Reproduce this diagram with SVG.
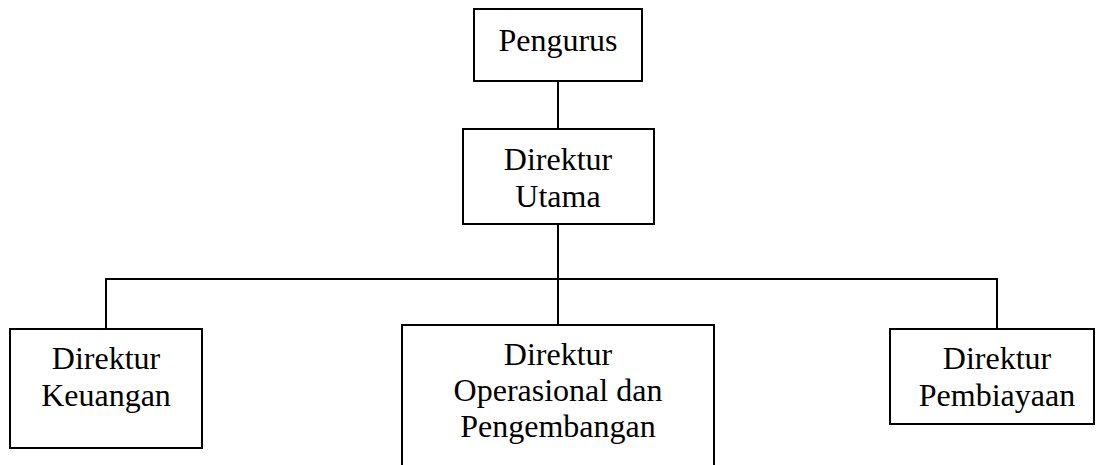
<svg xmlns="http://www.w3.org/2000/svg" width="1097" height="465" viewBox="0 0 1097 465">
<style>
.box{fill:#fff;stroke:#000;stroke-width:2}
.ln{fill:none;stroke:#000;stroke-width:2}
.t{font-family:'Liberation Serif','Times New Roman',serif;font-size:32px;fill:#000;text-anchor:middle}
</style>
<rect width="1097" height="465" fill="#fff"/>
<g id="connectors">
<line class="ln" x1="558" y1="81" x2="558" y2="129"/>
<line class="ln" x1="558" y1="224" x2="558" y2="325"/>
<polyline class="ln" points="106,329 106,279 997,279 997,329"/>
</g>
<g id="pengurus">
<rect class="box" x="474" y="9" width="168" height="72"/>
<text class="t" x="558" y="51">Pengurus</text>
</g>
<g id="direktur-utama">
<rect class="box" x="463" y="129" width="191" height="95"/>
<text class="t" x="558" y="170">Direktur</text>
<text class="t" x="558" y="207">Utama</text>
</g>
<g id="direktur-keuangan">
<rect class="box" x="10" y="329" width="192" height="119"/>
<text class="t" x="106" y="369">Direktur</text>
<text class="t" x="106" y="406">Keuangan</text>
</g>
<g id="direktur-operasional">
<rect class="box" x="402" y="325" width="312" height="150"/>
<text class="t" x="558" y="365">Direktur</text>
<text class="t" x="558" y="401">Operasional dan</text>
<text class="t" x="558" y="437">Pengembangan</text>
</g>
<g id="direktur-pembiayaan">
<rect class="box" x="890" y="329" width="204" height="95"/>
<text class="t" x="997" y="369">Direktur</text>
<text class="t" x="997" y="406">Pembiayaan</text>
</g>
</svg>
